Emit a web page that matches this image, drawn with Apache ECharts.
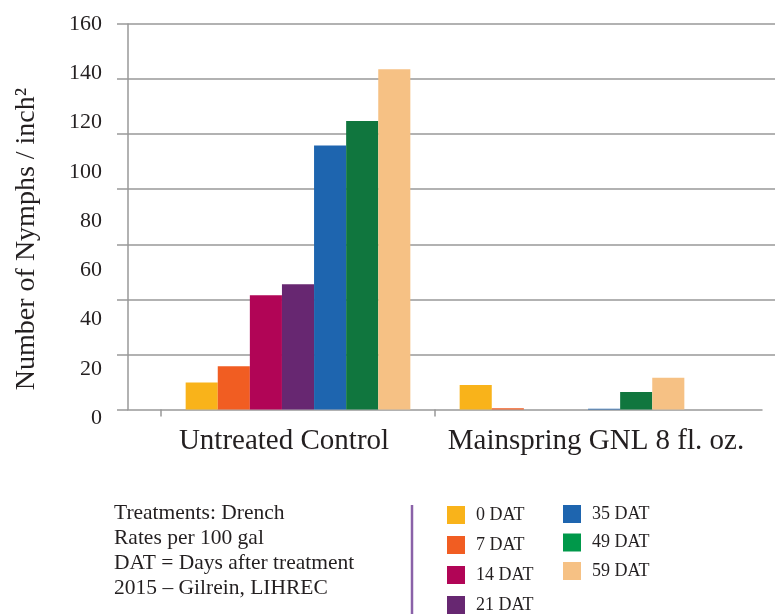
<!DOCTYPE html>
<html lang="en">
  <head>
    <meta charset="UTF-8" />
    <title>Nymphs per inch²</title>
    <script src="https://cdn.jsdelivr.net/npm/echarts@6/dist/echarts.min.js"></script>
    <style>
      * {
        margin: 0;
        padding: 0;
      }
      #charts {
        width: 775px;
        height: 614px;
      }
    </style>
  </head>
  <body>
    <div id="charts"></div>
    <script>
      var treatments = ["Untreated Control", "Mainspring GNL 8 fl. oz."];
      var datNames = ["0 DAT", "7 DAT", "14 DAT", "21 DAT", "35 DAT", "49 DAT", "59 DAT"];
      var datColors = ["#f9b31a", "#f15d22", "#b10556", "#672771", "#1e65af", "#10763e", "#f6c184"];
      // values, one entry per treatment
      var dat0 = [11.2, 10.2];
      var dat7 = [18.0, 0.5];
      var dat14 = [47.4, 0];
      var dat21 = [52.0, 0];
      var dat35 = [109.6, 0.3];
      var dat49 = [119.7, 7.3];
      var dat59 = [141.2, 13.2];
      var allValues = [dat0, dat7, dat14, dat21, dat35, dat49, dat59];
      var notes = [
        "Treatments: Drench",
        "Rates per 100 gal",
        "DAT = Days after treatment",
        "2015 – Gilrein, LIHREC",
      ];

      var serif = "Liberation Serif";
      var ink = "#231f20";
      var gridGray = "#999999";

      var myEcharts = echarts.init(document.getElementById("charts"));

      var series = datNames.map(function (name, i) {
        return {
          name: name,
          type: "bar",
          xAxisIndex: 0,
          yAxisIndex: 0,
          data: allValues[i],
          barGap: "0%",
          barCategoryGap: "18%",
          itemStyle: { color: datColors[i] },
          z: 3,
        };
      });

      var options = {
        animation: false,
        textStyle: { fontFamily: serif },
        grid: [
          // bars
          { left: 161, right: 66, top: 24, bottom: 204.5, outerBoundsMode: "none" },
          // gridlines + vertical axis
          { left: 128, right: 0, top: 24, bottom: 204.5, outerBoundsMode: "none" },
          // tick labels (offset as in the original)
          { left: 128, right: 0, top: 24, bottom: 196, outerBoundsMode: "none" },
          // baseline
          { left: 128, right: 13, top: 24, bottom: 204.5, outerBoundsMode: "none" },
          // the two small ticks under the first group
          { left: 161, right: 340, top: 24, bottom: 204.5, outerBoundsMode: "none" },
        ],
        xAxis: [
          {
            gridIndex: 0,
            type: "category",
            data: treatments,
            axisLine: { show: false },
            axisTick: { show: false },
            axisLabel: {
              interval: 0,
              margin: 17,
              fontSize: 29,
              color: ink,
              fontFamily: serif,
              formatter: function (v, i) {
                return i === 0 ? "{l|" + v + "}" : "{r|" + v + "}";
              },
              rich: {
                l: { fontSize: 29, fontFamily: serif, color: ink, padding: [0, 28, 0, 0] },
                r: { fontSize: 29, fontFamily: serif, color: ink, padding: [0, 0, 0, 48] },
              },
            },
          },
          { gridIndex: 1, type: "value", show: false },
          { gridIndex: 2, type: "value", show: false },
          {
            gridIndex: 3,
            type: "value",
            axisLine: { show: true, lineStyle: { color: gridGray, width: 1.5 } },
            axisTick: { show: false },
            axisLabel: { show: false },
            splitLine: { show: false },
          },
          {
            gridIndex: 4,
            type: "category",
            data: [""],
            axisLine: { show: false },
            axisLabel: { show: false },
            axisTick: { show: true, length: 7, lineStyle: { color: gridGray, width: 1.5 } },
          },
        ],
        yAxis: [
          { gridIndex: 0, type: "value", min: 0, max: 160, show: false },
          {
            gridIndex: 1,
            type: "value",
            min: 0,
            max: 160,
            interval: 160 / 7,
            axisLine: { show: true, lineStyle: { color: gridGray, width: 1.5 } },
            axisTick: { show: true, length: 11, lineStyle: { color: gridGray, width: 1.5 } },
            axisLabel: { show: false },
            splitLine: { show: true, showMinLine: false, lineStyle: { color: gridGray, width: 1.5 } },
          },
          {
            gridIndex: 2,
            type: "value",
            min: 0,
            max: 160,
            interval: 20,
            axisLine: { show: false },
            axisTick: { show: false },
            splitLine: { show: false },
            axisLabel: { margin: 26, fontSize: 22, color: ink, fontFamily: serif },
          },
          { gridIndex: 3, type: "value", show: false },
          { gridIndex: 4, type: "value", show: false },
        ],
        legend: [
          {
            data: datNames.slice(0, 4),
            orient: "vertical",
            left: 447,
            top: 506,
            padding: 0,
            itemWidth: 18,
            itemHeight: 18,
            itemGap: 12,
            icon: "rect",
            selectedMode: false,
            textStyle: { fontSize: 18, color: ink, fontFamily: serif, padding: [0, 0, 0, 6] },
          },
          {
            data: datNames.slice(4).map(function (n) {
              return n === "49 DAT" ? { name: n, itemStyle: { color: "#00984a" } } : n;
            }),
            orient: "vertical",
            left: 563,
            top: 505,
            padding: 0,
            itemWidth: 18,
            itemHeight: 18,
            itemGap: 10.5,
            icon: "rect",
            selectedMode: false,
            textStyle: { fontSize: 18, color: ink, fontFamily: serif, padding: [0, 0, 0, 6] },
          },
        ],
        title: {
          text: notes.join("\n"),
          left: 114,
          top: 501,
          padding: 0,
          textStyle: {
            fontSize: 21.5,
            lineHeight: 25,
            fontWeight: "normal",
            color: ink,
            fontFamily: serif,
          },
        },
        graphic: [
          {
            type: "text",
            x: 27,
            y: 239,
            rotation: Math.PI / 2,
            style: {
              text: "Number of Nymphs / inch²",
              fontSize: 28,
              fontFamily: serif,
              fill: ink,
              align: "center",
              verticalAlign: "middle",
            },
          },
          {
            type: "line",
            shape: { x1: 412, y1: 505, x2: 412, y2: 614 },
            style: { stroke: "#8a62a8", lineWidth: 2.5 },
          },
        ],
        series: series,
      };
      myEcharts.setOption(options);
    </script>
  </body>
</html>
